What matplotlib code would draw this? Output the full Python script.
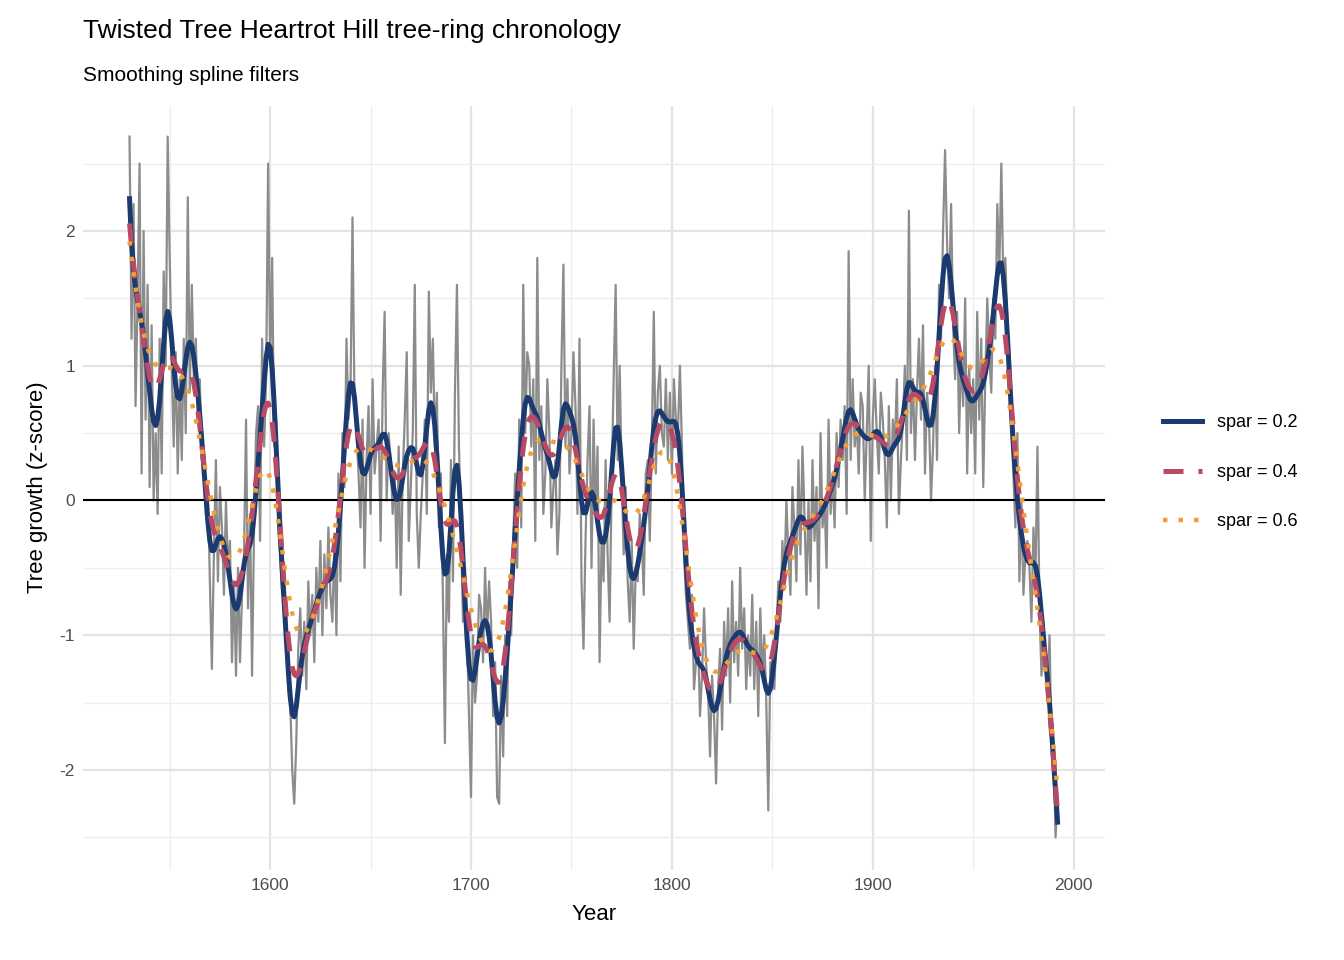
import numpy as np
import matplotlib
matplotlib.use("Agg")
import matplotlib.pyplot as plt
from matplotlib.ticker import MultipleLocator

plt.rcParams['font.family'] = ['Liberation Sans', 'DejaVu Sans']
plt.rcParams['axes.unicode_minus'] = False

start_year = 1530
growth = [
 2.7, 1.2, 2.2, 0.7, 1.5, 2.5, 0.2, 2.0, 0.6, 1.6,
 0.1, 1.3, 0.0, 0.5, -0.1, 1.2, 0.2, 1.7, 1.0, 2.7,
 1.8, 1.0, 0.4, 1.1, 0.2, 0.9, 0.3, 1.2, 0.5, 2.25,
 0.8, 1.6, 0.9, 1.2, 0.6, 0.9, 0.3, 0.4, -0.1, 0.1,
 -0.6, -1.25, -0.4, 0.3, -0.6, 0.1, -0.2, -0.7, 0.0, -0.5,
 -0.3, -1.2, -0.6, -1.3, -0.5, -1.2, -0.7, -0.4, 0.6, -0.8,
 -0.1, -1.3, -0.2, 0.5, 0.7, -0.3, 1.2, 0.4, 0.9, 2.5,
 1.0, 1.8, 0.4, 0.6, -0.2, -0.4, -0.7, -0.5, -0.9, -1.4,
 -1.5, -2.0, -2.25, -1.8, -1.1, -0.8, -1.3, -0.9, -1.4, -0.6,
 -1.0, -0.7, -1.2, -0.5, -0.9, -0.3, -1.0, -0.4, -0.8, -0.2,
 -0.7, -0.9, -0.3, -1.0, 0.2, -0.6, 0.5, 0.1, 1.2, 0.6,
 0.8, 2.1, 0.7, 0.5, 0.2, -0.2, 0.6, -0.5, 0.3, 0.7,
 -0.1, 0.9, 0.2, 0.4, 0.6, -0.3, 0.8, 1.4, 0.0, 0.5,
 0.3, -0.1, 0.2, -0.5, 0.4, -0.7, 0.2, 0.6, 1.1, -0.3,
 0.1, 0.5, 1.6, -0.1, -0.5, -0.1, 0.2, 0.6, -0.1, 1.55,
 0.8, 1.2, 0.4, 0.8, -0.2, 0.2, -0.7, -1.8, -0.4, -0.9,
 0.3, -0.6, 0.8, 1.6, 0.4, -0.2, -0.9, -0.5, -1.0, -1.6,
 -2.2, -1.0, -1.5, -1.3, -0.7, -0.8, -1.2, -0.5, -1.0, -0.6,
 -0.9, -1.6, -1.2, -2.2, -2.25, -1.3, -1.9, -1.0, -1.6, -0.6,
 -1.0, -0.3, 0.2, -0.5, 0.6, -0.2, 1.6, 0.5, 1.1, 1.0,
 0.4, 0.9, -0.3, 1.8, 0.3, 0.7, -0.1, 0.2, 0.9, 0.5,
 -0.2, 0.1, 0.3, -0.4, -0.1, 1.0, 1.75, 0.4, 0.9, 0.2,
 0.5, 1.1, 0.7, -0.1, 1.2, -0.6, -1.1, -0.3, 0.3, 0.7,
 -0.5, 0.6, -0.1, 0.4, -1.2, -0.3, -0.6, 0.3, -0.4, -0.9,
 0.1, 0.9, 1.6, 0.3, 1.0, 0.2, -0.4, 0.1, -0.6, -0.9,
 -0.3, -1.1, -0.5, -0.6, -0.1, -0.3, -0.7, 0.2, 0.3, -0.3,
 0.4, 1.4, 0.2, 0.8, 1.0, 0.5, 0.4, 0.9, 0.3, 0.8,
 0.2, 0.9, 0.6, 0.5, 1.0, 0.4, -0.4, -0.7, -0.9, -1.1,
 -0.7, -1.4, -1.2, -1.0, -1.6, -1.3, -0.8, -1.2, -1.4, -1.9,
 -1.3, -1.6, -2.1, -1.4, -1.1, -1.7, -0.9, -1.3, -0.8, -1.5,
 -0.6, -1.2, -0.9, -1.3, -0.5, -1.1, -0.8, -1.4, -1.0, -1.3,
 -0.7, -1.4, -0.9, -1.6, -0.8, -1.3, -1.0, -1.5, -2.3, -1.2,
 -1.3, -1.4, -1.0, -0.6, -0.9, -0.3, -0.6, 0.0, -0.4, -0.7,
 0.1, -0.2, -0.6, 0.3, -0.4, 0.4, -0.1, -0.7, 0.0, -0.6,
 0.3, -0.3, 0.1, -0.8, 0.5, -0.2, 0.0, -0.5, 0.6, -0.1,
 0.2, -0.2, 0.5, 0.1, 0.6, 0.3, 0.7, -0.1, 1.85, 0.3,
 0.9, 0.4, 0.6, 0.2, 0.8, 0.7, 0.0, 0.5, 1.0, -0.3,
 0.6, 0.9, 0.5, 0.2, 0.8, 0.6, 0.3, -0.2, 0.7, 0.0,
 0.6, 0.4, 0.9, -0.1, 0.3, 0.6, 1.0, 0.3, 2.15, 0.5,
 0.9, 0.3, 0.8, 1.2, 0.6, 1.3, 0.2, 0.8, 0.6, 0.0,
 0.4, 1.0, 0.3, 1.6, 1.2, 2.0, 2.6, 1.9, 1.5, 2.2,
 1.3, 0.9, 1.4, 0.5, 1.1, 0.7, 1.5, 0.2, 1.0, 0.5,
 0.9, 0.2, 1.4, 0.6, 1.2, 0.1, 0.9, 1.5, 1.1, 0.8,
 1.5, 1.2, 2.2, 1.7, 2.5, 1.6, 1.8, 1.3, 0.9, 0.6,
 0.2, -0.2, 0.5, -0.6, 0.0, -0.7, -0.4, -0.3, -0.5, -0.9,
 -0.2, -0.6, 0.4, -0.8, -1.3, -0.9, -1.2, -1.5, -1.0, -1.8,
 -1.8, -2.5, -2.2,
]
spar_labels = ["spar = 0.2", "spar = 0.4", "spar = 0.6"]
smooth_widths = [2.2, 4.0, 7.0]   # kernel widths (years) standing in for spline stiffness

y = np.array(growth)
years = start_year + np.arange(len(y))

def smooth(x, t, sigma):
    out = np.empty_like(x)
    for i, ti in enumerate(t):
        w = np.exp(-0.5 * ((t - ti) / sigma) ** 2)
        W = w.sum(); mt = (w * t).sum() / W; mx = (w * x).sum() / W
        b = (w * (t - mt) * (x - mx)).sum() / (w * (t - mt) ** 2).sum()
        out[i] = mx + b * (ti - mt)
    return out

fig = plt.figure(figsize=(13.44, 9.6), dpi=100)
ax = fig.add_axes([0.062, 0.094, 0.76, 0.796])
ax.plot(years, y, color="#8c8c8c", lw=1.6, zorder=2)
ax.axhline(0, color="black", lw=1.5, zorder=3)
styles = [dict(color="#1b3a6f", lw=3.6, ls="-"),
          dict(color="#b84a64", lw=3.6, ls=(0, (4, 3))),
          dict(color="#f0a035", lw=3.2, ls=(0, (1, 2.5)))]
for lab, sw, st in zip(spar_labels, smooth_widths, styles):
    ax.plot(years, smooth(y, years, sw), label=lab, zorder=4, **st)

ax.set_xlim(1507, 2015.5)
ax.set_ylim(-2.74, 2.93)
ax.xaxis.set_major_locator(MultipleLocator(100))
ax.xaxis.set_minor_locator(MultipleLocator(50))
ax.yaxis.set_major_locator(MultipleLocator(1))
ax.yaxis.set_minor_locator(MultipleLocator(0.5))
ax.grid(which="major", color="#e3e3e3", lw=1.6)
ax.grid(which="minor", color="#eeeeee", lw=1.0)
ax.set_axisbelow(True)
for s in ax.spines.values():
    s.set_visible(False)
ax.tick_params(which="both", length=0, labelsize=12.5, labelcolor="#4d4d4d", pad=6)
ax.set_xlabel("Year", fontsize=16, labelpad=8)
ax.set_ylabel("Tree growth (z-score)", fontsize=16, labelpad=8)
fig.text(0.062, 0.955, "Twisted Tree Heartrot Hill tree-ring chronology", fontsize=19, va="bottom")
fig.text(0.062, 0.911, "Smoothing spline filters", fontsize=15, va="bottom")
leg = fig.legend(loc="center left", bbox_to_anchor=(0.853, 0.508), frameon=False,
                 fontsize=13, handlelength=2.2, labelspacing=1.8)
fig.savefig("out.png", dpi=100)
